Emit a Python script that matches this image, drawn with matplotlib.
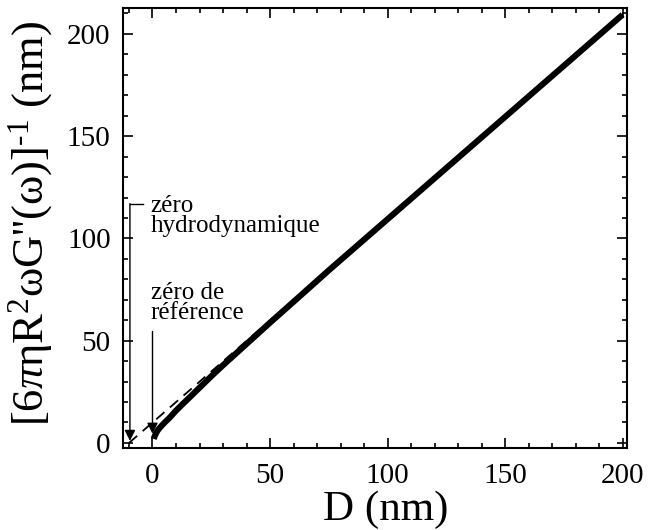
"""
Inverse dissipation vs distance D, with the hydrodynamic and reference zeros.

Writes:
  out.png
"""

import matplotlib

matplotlib.use("Agg")
import matplotlib.pyplot as plt

plt.rcParams["font.family"] = ["Liberation Serif", "DejaVu Serif"]
plt.rcParams["mathtext.fontset"] = "custom"
plt.rcParams["mathtext.rm"] = "Liberation Serif"
plt.rcParams["mathtext.it"] = "Liberation Serif:italic"

# measured curve (thick solid)
D_meas = [0.5, 1, 2, 3, 5, 7, 10, 13, 16, 20, 25, 30, 35, 40, 45, 50,
          60, 75, 100, 125, 150, 175, 200]
inv_meas = [2.0, 3.5, 5.8, 7.3, 9.8, 12.0, 15.8, 19.2, 22.5, 27.0, 32.6, 38.0,
            43.2, 48.4, 53.6, 58.8, 69.0, 84.4, 109.4, 134.4, 159.4, 184.4, 209.4]

# linear fit (dashed), extrapolated down to the hydrodynamic zero
D_fit = [-10, 200]
inv_fit = [0, 209.6]

# annotation positions (data units)
D_hydro = -9.6
D_ref = 0.0


def main():
    fig = plt.figure(figsize=(6.48, 5.30), dpi=100)
    ax = fig.add_axes([0.19, 0.155, 0.778, 0.83])

    ax.plot(D_fit, inv_fit, color="black", linewidth=1.3, linestyle=(0, (6, 4)))
    ax.plot(D_meas, inv_meas, color="black", linewidth=4.4, solid_capstyle="butt")

    # zéro hydrodynamique: bracket + arrow
    ax.plot([-4.0, D_hydro], [117, 117], color="black", linewidth=1.0)
    ax.annotate("", xy=(D_hydro, 1.0), xytext=(D_hydro, 117),
                arrowprops=dict(arrowstyle="-|>", color="black", lw=1.0,
                                mutation_scale=16, shrinkA=0, shrinkB=0))
    ax.text(-0.8, 111, "zéro\nhydrodynamique", fontsize=18,
            ha="left", va="center", linespacing=0.92)

    # zéro de référence
    ax.annotate("", xy=(D_ref, 4.5), xytext=(D_ref, 54.5),
                arrowprops=dict(arrowstyle="-|>", color="black", lw=1.0,
                                mutation_scale=16, shrinkA=0, shrinkB=0))
    ax.text(-0.8, 68.5, "zéro de\nréférence", fontsize=18,
            ha="left", va="center", linespacing=0.92)

    ax.set_xlim(-12.5, 202)
    ax.set_ylim(-2.4, 212.7)
    ax.set_xticks([0, 50, 100, 150, 200])
    ax.set_xticks(range(-10, 201, 10), minor=True)
    ax.set_yticks([0, 50, 100, 150, 200])
    ax.set_yticks(range(0, 211, 10), minor=True)

    ax.tick_params(which="both", direction="in", top=True, right=True, width=1.2)
    ax.tick_params(which="major", length=7)
    ax.tick_params(which="minor", length=3.6)
    ax.tick_params(axis="x", labelsize=21, pad=11)
    ax.tick_params(axis="y", labelsize=21, pad=9)
    for sp in ax.spines.values():
        sp.set_linewidth(1.5)

    ax.set_xlabel("D (nm)", fontsize=31)
    ax.set_ylabel(r"[6$\pi$ηR$^2$ωG''(ω)]$^{\text{-}1}$ (nm)", fontsize=32)
    ax.xaxis.set_label_coords(0.52, -0.097)
    ax.yaxis.set_label_coords(-0.135, 0.511)

    fig.savefig("out.png", dpi=100)
    plt.close(fig)


if __name__ == "__main__":
    main()
